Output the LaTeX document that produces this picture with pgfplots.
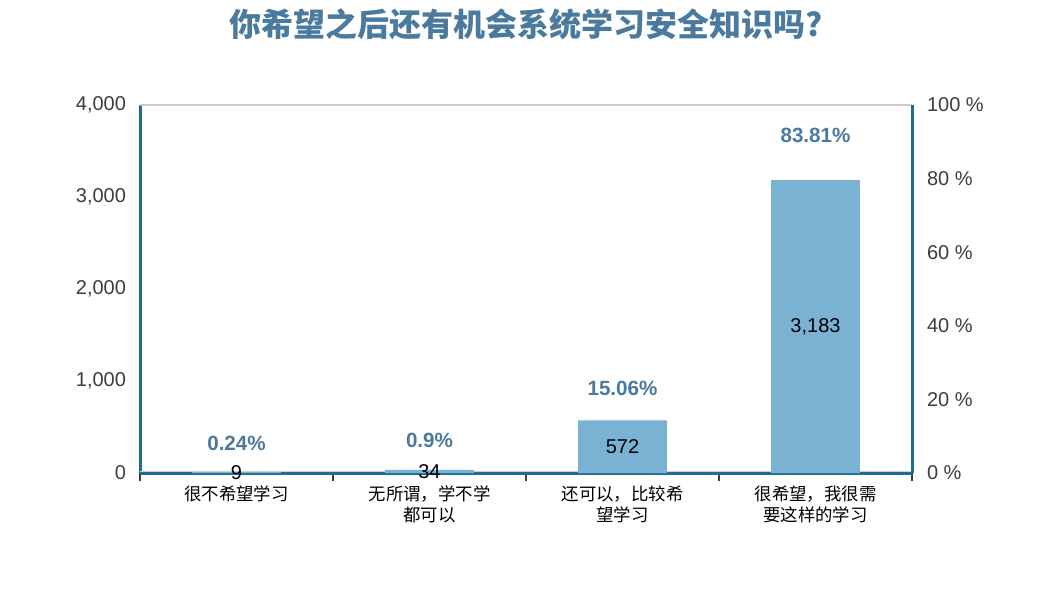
\documentclass[border=0pt]{standalone}
\usepackage{pgfplots}
\pgfplotsset{compat=1.18}
\usepackage{fontspec}
\setmainfont{Liberation Sans}
\newfontfamily\cjk{Noto Sans CJK SC}
\definecolor{barc}{RGB}{122,178,212}
\definecolor{axisc}{RGB}{27,112,143}
\definecolor{pctc}{RGB}{74,122,158}
\definecolor{titlec}{RGB}{74,122,158}
\definecolor{tickc}{RGB}{60,60,60}
\begin{document}
\begin{tikzpicture}[x=1pt,y=1pt]
\useasboundingbox (0,0) rectangle (525,306);
\node[font=\cjk\bfseries\fontsize{16}{19}\selectfont, text=titlec] at (263,294) {你希望之后还有机会系统学习安全知识吗?};
\begin{axis}[
  at={(70pt,69.5pt)}, anchor=south west, scale only axis,
  width=386pt, height=184pt,
  xmin=-0.5, xmax=3.5, ymin=0, ymax=4000,
  axis y line*=left, axis x line*=bottom,
  axis line style={draw=axisc, line width=1.5pt},
  xtick={-0.5,0.5,1.5,2.5,3.5}, xticklabels={,,,,,},
  xtick style={draw=tickc, line width=0.6pt},
  major tick length=4pt, tick align=outside,
  extra x ticks={0,1,2,3},
  extra x tick labels={很不希望学习,{无所谓，学不学\\都可以},{还可以，比较希\\望学习},{很希望，我很需\\要这样的学习}},
  extra x tick style={major tick length=0pt, xticklabel style={font=\cjk\fontsize{8.7}{10.5}\selectfont, text=black, align=center, anchor=north, yshift=-3pt}},
  ytick={0,1000,2000,3000,4000},
  ytick style={draw=none},
  yticklabel style={font=\fontsize{10}{12}\selectfont, text=tickc, xshift=0.5pt},
  /pgf/number format/assume math mode=true,
  /pgf/number format/1000 sep={,},
  clip=false,
]
\draw[gray!40, line width=0.8pt] (rel axis cs:0,1) -- (rel axis cs:1,1);
\draw[gray!40, line width=0.8pt] (rel axis cs:0,0.004) -- (rel axis cs:1,0.004);
\addplot[ybar, bar width=0.46, fill=barc, draw=none] coordinates {(0,9) (1,34) (2,572) (3,3183)};
\addplot[draw=none, nodes near coords, point meta=explicit symbolic,
  nodes near coords style={anchor=center, font=\fontsize{10}{12}\selectfont, text=black}]
  coordinates {(0,4.5)[9] (1,17)[34] (2,286)[572] (3,1591.5)[3,183]};
\end{axis}
\begin{axis}[
  at={(70pt,69.5pt)}, anchor=south west, scale only axis,
  width=386pt, height=184pt,
  xmin=-0.5, xmax=3.5, ymin=0, ymax=100,
  axis y line*=right, axis x line=none,
  axis line style={draw=axisc, line width=1.5pt},
  ytick={0,20,40,60,80,100},
  ytick style={draw=none},
  yticklabel={\pgfmathprintnumber{\tick} \%},
  yticklabel style={font=\fontsize{10}{12}\selectfont, text=tickc, xshift=4pt},
  /pgf/number format/assume math mode=true,
  clip=false,
]
\addplot[draw=none, nodes near coords, point meta=explicit symbolic,
  nodes near coords style={anchor=center, yshift=14.5pt, font=\bfseries\fontsize{10.3}{12}\selectfont, text=pctc}]
  coordinates {(0,0.24)[0.24\%] (1,0.9)[0.9\%] (2,15.06)[15.06\%] (3,83.81)[83.81\%]};
\end{axis}
\end{tikzpicture}
\end{document}
